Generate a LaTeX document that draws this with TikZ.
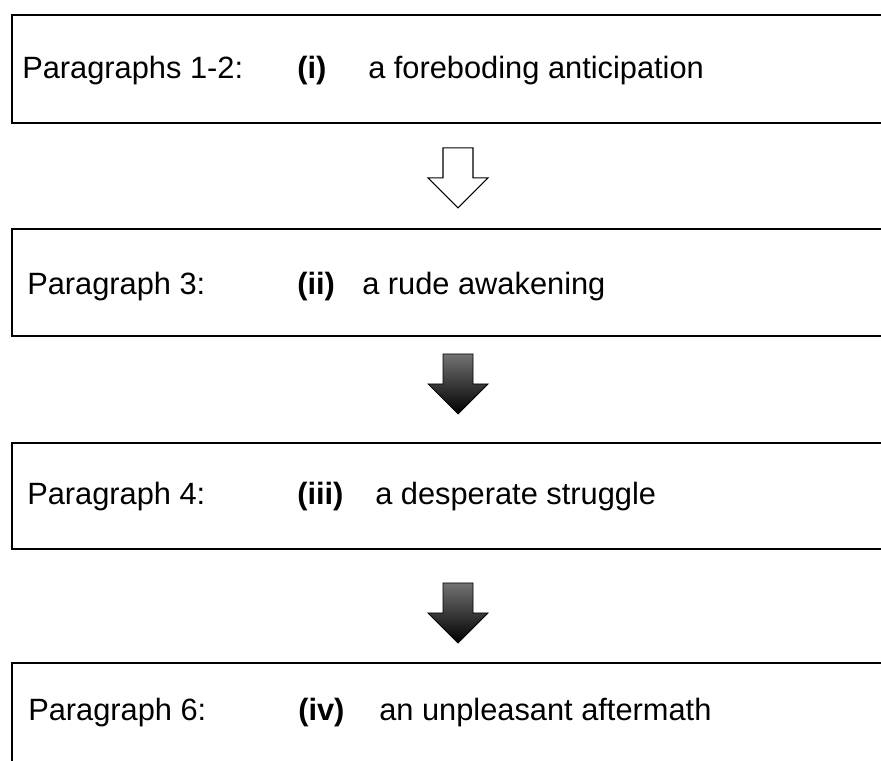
\documentclass[tikz,border=0pt]{standalone}
\usepackage{fontspec}
\setmainfont{Liberation Sans}
\usetikzlibrary{calc}
\tikzset{
  stagebox/.style={draw=black, line width=1.4pt, minimum width=669pt, inner sep=0pt},
  lbl/.style={anchor=base west, inner sep=0pt, font=\fontsize{23.1}{28}\selectfont},
  numlbl/.style={lbl, font=\fontsize{23.1}{28}\selectfont\bfseries},
  downarrow/.pic={
    \path[pic actions] (-15,0) -- (15,0) -- (15,30) -- (30,30) -- (0,60)
      -- (-30,30) -- (-15,30) -- cycle;
  },
  hollowarrow/.style={draw=black, line width=0.8pt, fill=white},
  solidarrow/.style={draw=black, line width=0.6pt, top color=black!55, bottom color=black}
}
\begin{document}
\begin{tikzpicture}[x=0.75pt, y=-0.75pt]
  \useasboundingbox (0,0) rectangle (881,760);
  \clip (0,0) rectangle (881,760);
  \fill[white] (0,0) rectangle (881,760);

  % stage boxes (right edges run past the page)
  \node[stagebox, minimum height=81pt]    (b1) at (458,69)    {};
  \node[stagebox, minimum height=80.25pt] (b2) at (458,282.5) {};
  \node[stagebox, minimum height=79.5pt]  (b3) at (458,496)   {};
  \node[stagebox, minimum height=81pt]    (b4) at (458,717)   {};

  % box texts
  \node[lbl]    (p1) at (22,78)  {Paragraphs 1-2:};
  \node[numlbl] (n1) at (297,78) {(i)};
  \node[lbl]    (t1) at (368,78) {a foreboding anticipation};

  \node[lbl]    (p2) at (27,294)  {Paragraph 3:};
  \node[numlbl] (n2) at (297,294) {(ii)};
  \node[lbl]    (t2) at (362,294) {a rude awakening};

  \node[lbl]    (p3) at (27,504)  {Paragraph 4:};
  \node[numlbl] (n3) at (297,504) {(iii)};
  \node[lbl]    (t3) at (375,504) {a desperate struggle};

  \node[lbl]    (p4) at (28,720)  {Paragraph 6:};
  \node[numlbl] (n4) at (298,720) {(iv)};
  \node[lbl]    (t4) at (379,720) {an unpleasant aftermath};

  % block arrows between the boxes
  \path (b1.south) ++(0,24) pic[hollowarrow] {downarrow};
  \path (b2.south) ++(0,17) pic[solidarrow] {downarrow};
  \path (b3.south) ++(0,33) pic[solidarrow] {downarrow};
\end{tikzpicture}
\end{document}
